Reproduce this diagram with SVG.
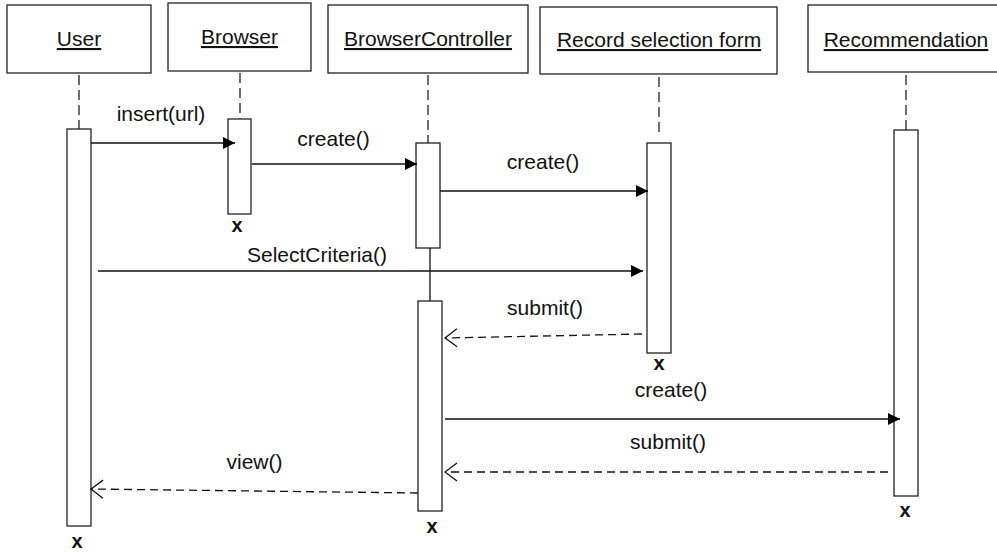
<svg xmlns="http://www.w3.org/2000/svg" width="997" height="552" viewBox="0 0 997 552">
<style>
.box{fill:#fff;stroke:#222;stroke-width:1.3}
.act{fill:#fff;stroke:#222;stroke-width:1.3}
.life{stroke:#222;stroke-width:1.3;stroke-dasharray:10 5;fill:none}
.msg{stroke:#111;stroke-width:1.3;fill:none}
.ret{stroke:#111;stroke-width:1.3;fill:none;stroke-dasharray:8 5}
text{font-family:"Liberation Sans",Arial,sans-serif;font-size:21px;fill:#111}
.hd{text-anchor:middle;text-decoration:underline}
.lbl{text-anchor:middle}
.x{text-anchor:middle;font-weight:bold;font-size:20px}
</style>
<defs>
<marker id="filled" markerWidth="12" markerHeight="12" viewBox="0 0 12 12" refX="12" refY="6" orient="auto" markerUnits="userSpaceOnUse">
<path d="M0,0 L12,6 L0,12 Z" fill="#000"/>
</marker>
<marker id="open" markerWidth="14" markerHeight="20" viewBox="0 0 14 20" refX="13" refY="10" orient="auto" markerUnits="userSpaceOnUse">
<path d="M1,1 L13,10 L1,19" fill="none" stroke="#111" stroke-width="1.3"/>
</marker>
</defs>

<g id="lifelines">
<line class="life" x1="79" y1="75" x2="79" y2="129"/>
<line class="life" x1="240" y1="73" x2="240" y2="119"/>
<line class="life" x1="428" y1="75" x2="428" y2="143"/>
<line class="life" x1="659" y1="77" x2="659" y2="133"/>
<line class="life" x1="906" y1="75" x2="906" y2="130"/>
</g>

<g id="node-user">
<rect class="box" x="7" y="5" width="144" height="68"/>
<text class="hd" x="79" y="46">User</text>
<rect class="act" x="67" y="129" width="24" height="397"/>
<text class="x" x="77" y="548">x</text>
</g>

<g id="node-browser">
<rect class="box" x="168" y="3" width="143" height="68"/>
<text class="hd" x="239.5" y="44">Browser</text>
<rect class="act" x="228" y="119" width="23" height="95"/>
<text class="x" x="237" y="232">x</text>
</g>

<g id="node-browsercontroller">
<rect class="box" x="328" y="5" width="200" height="68"/>
<text class="hd" x="428" y="46">BrowserController</text>
<rect class="act" x="416" y="143" width="24" height="105"/>
<line class="msg" x1="430" y1="248" x2="430" y2="301"/>
<rect class="act" x="418" y="301" width="24" height="210"/>
<text class="x" x="432" y="533">x</text>
</g>

<g id="node-recordform">
<rect class="box" x="540" y="7" width="237" height="67"/>
<text class="hd" x="659" y="47">Record selection form</text>
<rect class="act" x="647" y="143" width="24" height="210"/>
<text class="x" x="659" y="370">x</text>
</g>

<g id="node-recommendation">
<rect class="box" x="808" y="5" width="196" height="67"/>
<text class="hd" x="906" y="47">Recommendation</text>
<rect class="act" x="894" y="130" width="24" height="366"/>
<text class="x" x="905" y="517">x</text>
</g>

<g id="connectors">
<line class="msg" x1="91" y1="143" x2="235" y2="143" marker-end="url(#filled)"/>
<text class="lbl" x="161" y="121">insert(url)</text>
<line class="msg" x1="252" y1="164" x2="417" y2="164" marker-end="url(#filled)"/>
<text class="lbl" x="333.5" y="146">create()</text>
<line class="msg" x1="440" y1="191" x2="648" y2="191" marker-end="url(#filled)"/>
<text class="lbl" x="543" y="169">create()</text>
<line class="msg" x1="98" y1="271" x2="643" y2="271" marker-end="url(#filled)"/>
<text class="lbl" x="317" y="262">SelectCriteria()</text>
<line class="ret" x1="642" y1="334" x2="445" y2="338" marker-end="url(#open)"/>
<text class="lbl" x="545" y="315">submit()</text>
<line class="msg" x1="445" y1="419" x2="900" y2="419" marker-end="url(#filled)"/>
<text class="lbl" x="671" y="397">create()</text>
<line class="ret" x1="888" y1="472" x2="445" y2="472" marker-end="url(#open)"/>
<text class="lbl" x="668" y="449">submit()</text>
<line class="ret" x1="418" y1="493" x2="91" y2="489" marker-end="url(#open)"/>
<text class="lbl" x="254.5" y="469">view()</text>
</g>
</svg>
